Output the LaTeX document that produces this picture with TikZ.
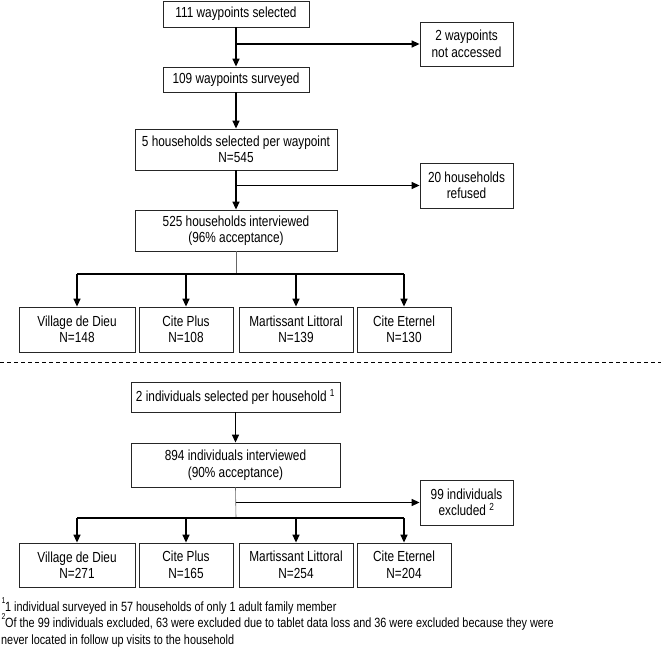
\documentclass[tikz,border=0pt]{standalone}
\usepackage{fontspec}
\setmainfont[FakeStretch=0.81]{Liberation Sans}
\usetikzlibrary{arrows.meta}
\tikzset{
  box/.style={draw=black!85, line width=0.8pt, align=center, inner sep=0pt,
    font=\fontsize{14.6}{16.5}\selectfont},
  arr/.style={line width=1.4pt, -{Triangle[length=8pt,width=7pt]}},
  thk/.style={line width=1.4pt},
  thin/.style={draw=black!60, line width=0.6pt},
  foot/.style={anchor=base west, inner sep=0pt, font=\fontsize{13.4}{15}\selectfont},
  sup/.style={anchor=base west, inner sep=0pt, font=\fontsize{8.5}{9}\selectfont}
}
\begin{document}
\begin{tikzpicture}[x=1pt,y=-1pt]
\useasboundingbox (0,0) rectangle (661,655);
% top part
\node[box, minimum width=146pt, minimum height=26pt] (b1) at (236,14) {111 waypoints selected};
\node[box, minimum width=93pt, minimum height=44pt] (ex1) at (466.5,44) {2 waypoints\\not accessed};
\node[box, minimum width=146pt, minimum height=25pt] (b2) at (236,79.5) {109 waypoints surveyed};
\node[box, minimum width=202pt, minimum height=41pt] (b3) at (236,149.5) {5 households selected per waypoint\\N=545};
\node[box, minimum width=93pt, minimum height=45pt] (ex2) at (466.5,185.5) {20 households\\refused};
\node[box, minimum width=202pt, minimum height=41pt] (b4) at (236,230.5) {525 households interviewed\\(96\% acceptance)};
\node[box, minimum width=116pt, minimum height=45pt] (v1) at (77,329.5) {Village de Dieu\\N=148};
\node[box, minimum width=94pt, minimum height=45pt] (c1) at (186,329.5) {Cite Plus\\N=108};
\node[box, minimum width=114pt, minimum height=45pt] (m1) at (296,329.5) {Martissant Littoral\\N=139};
\node[box, minimum width=94pt, minimum height=45pt] (e1) at (404,329.5) {Cite Eternel\\N=130};

\draw[arr] (b1) -- (b2);
\draw[arr] (b1.south |- ex1.west) -- (ex1.west);
\draw[arr] (b2) -- (b3);
\draw[arr] (b3) -- (b4);
\draw[arr] (b3.south |- ex2.west) -- (ex2.west);
\coordinate (j1) at (236,274);
\draw[thin] (b4.south) -- (j1);
\draw[thk] (v1.north |- j1) -- (e1.north |- j1);
\draw[arr] (v1.north |- j1) -- (v1.north);
\draw[arr] (c1.north |- j1) -- (c1.north);
\draw[arr] (m1.north |- j1) -- (m1.north);
\draw[arr] (e1.north |- j1) -- (e1.north);

% separator
\coordinate (dl) at (0,362);
\coordinate (dr) at (661,362);
\draw[dashed, line width=0.9pt, dash pattern=on 4pt off 3pt] (dl) -- (dr);

% bottom part
\node[box, minimum width=209pt, minimum height=30pt] (b5) at (235.5,397) {2 individuals selected per household \textsuperscript{1}};
\node[box, minimum width=209pt, minimum height=44pt] (b6) at (235.5,465) {894 individuals interviewed\\(90\% acceptance)};
\node[box, minimum width=93pt, minimum height=45pt] (ex3) at (466.5,502.5) {99 individuals\\excluded \textsuperscript{2}};
\node[box, minimum width=116pt, minimum height=44pt] (v2) at (77,565) {Village de Dieu\\N=271};
\node[box, minimum width=94pt, minimum height=44pt] (c2) at (186,565) {Cite Plus\\N=165};
\node[box, minimum width=114pt, minimum height=44pt] (m2) at (296,565) {Martissant Littoral\\N=254};
\node[box, minimum width=94pt, minimum height=44pt] (e2) at (404,565) {Cite Eternel\\N=204};

\draw[arr] (b5) -- (b6);
\coordinate (j2) at (236,518);
\draw[thin] (b6.south) -- (j2);
\draw[arr] (b6.south |- ex3.west) -- (ex3.west);
\draw[thk] (v2.north |- j2) -- (e2.north |- j2);
\draw[arr] (v2.north |- j2) -- (v2.north);
\draw[arr] (c2.north |- j2) -- (c2.north);
\draw[arr] (m2.north |- j2) -- (m2.north);
\draw[arr] (e2.north |- j2) -- (e2.north);

% footnotes
\node[sup] (s1) at (1.5,603) {1};
\node[foot] (f1) at (5,611) {1 individual surveyed in 57 households of only 1 adult family member};
\node[sup] (s2) at (1.5,619) {2};
\node[foot] (f2) at (5,627.5) {Of the 99 individuals excluded, 63 were excluded due to tablet data loss and 36 were excluded because they were};
\node[foot] (f3) at (1,644) {never located in follow up visits to the household};
\end{tikzpicture}
\end{document}
